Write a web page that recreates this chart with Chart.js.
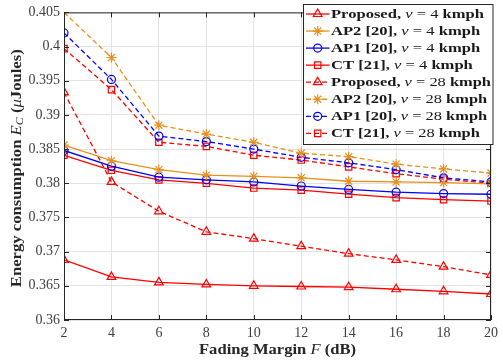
<!DOCTYPE html>
<html>
<head>
<meta charset="utf-8">
<script src="https://cdn.jsdelivr.net/npm/chart.js@4.4.1/dist/chart.umd.min.js"></script>
<style>
  html, body { margin: 0; padding: 0; background: #fff; }
  #wrap { width: 503px; height: 362px; }
</style>
</head>
<body>
<div id="wrap"><canvas id="c" width="503" height="362"></canvas></div>
<script>
// 数据 - 衰落余量 (dB)
const fadingMargin = [2, 4, 6, 8, 10, 12, 14, 16, 18, 20];

// v = 4 kmph
const proposed4 = [0.3688, 0.3663, 0.3655, 0.3652, 0.3650, 0.3649, 0.3648, 0.3645, 0.3642, 0.3638];
const ap2_4     = [0.3856, 0.3833, 0.3820, 0.3812, 0.3810, 0.3808, 0.3803, 0.3802, 0.3801, 0.3799];
const ap1_4     = [0.3848, 0.3825, 0.3809, 0.3805, 0.3802, 0.3796, 0.3791, 0.3787, 0.3785, 0.3784];
const ct4       = [0.3841, 0.3819, 0.3805, 0.3800, 0.3793, 0.3790, 0.3784, 0.3779, 0.3776, 0.3774];

// v = 28 kmph
const proposed28 = [0.3933, 0.3802, 0.3759, 0.3729, 0.3719, 0.3708, 0.3697, 0.3688, 0.3678, 0.3666];
const ap2_28     = [0.4050, 0.3984, 0.3885, 0.3872, 0.3860, 0.3844, 0.3839, 0.3828, 0.3821, 0.3815];
const ap1_28     = [0.4020, 0.3952, 0.3869, 0.3861, 0.3850, 0.3838, 0.3830, 0.3820, 0.3808, 0.3802];
const ct28       = [0.3997, 0.3937, 0.3860, 0.3854, 0.3841, 0.3834, 0.3824, 0.3814, 0.3806, 0.3800];

// 刻度
const xTicks = [2, 4, 6, 8, 10, 12, 14, 16, 18, 20];
const yTicks = [0.36, 0.365, 0.37, 0.375, 0.38, 0.385, 0.39, 0.395, 0.4, 0.405];

// 图例文字 (b = 粗体, i = 斜体, n = 正常)
const legendLabels = [
    [['b', 'Proposed, '], ['i', 'v'], ['n', ' = 4 '], ['b', 'kmph']],
    [['b', 'AP2 [20], '], ['i', 'v'], ['n', ' = 4 '], ['b', 'kmph']],
    [['b', 'AP1 [20], '], ['i', 'v'], ['n', ' = 4 '], ['b', 'kmph']],
    [['b', 'CT [21], '], ['i', 'v'], ['n', ' = 4 '], ['b', 'kmph']],
    [['b', 'Proposed, '], ['i', 'v'], ['n', ' = 28 '], ['b', 'kmph']],
    [['b', 'AP2 [20], '], ['i', 'v'], ['n', ' = 28 '], ['b', 'kmph']],
    [['b', 'AP1 [20], '], ['i', 'v'], ['n', ' = 28 '], ['b', 'kmph']],
    [['b', 'CT [21], '], ['i', 'v'], ['n', ' = 28 '], ['b', 'kmph']]
];

const RED = '#ff0000';
const BLUE = '#0000ff';
const ORANGE = '#e8901e';
const SERIF = '"Liberation Serif", "DejaVu Serif", serif';

function series(data, color, style, dashed, radius) {
    return {
        data: fadingMargin.map((x, i) => ({ x: x, y: data[i] })),
        borderColor: color,
        backgroundColor: 'rgba(0,0,0,0)',
        pointBorderColor: color,
        pointBackgroundColor: 'rgba(0,0,0,0)',
        pointStyle: style,
        pointRadius: radius,
        pointBorderWidth: 1.2,
        borderWidth: 1.3,
        borderDash: dashed ? [5, 3] : [],
        tension: 0,
        fill: false
    };
}

const datasets = [
    series(proposed4, RED, 'triangle', false, 5),
    series(ap2_4, ORANGE, 'star', false, 5),
    series(ap1_4, BLUE, 'circle', false, 4),
    series(ct4, RED, 'rect', false, 4.5),
    series(proposed28, RED, 'triangle', true, 5),
    series(ap2_28, ORANGE, 'star', true, 5),
    series(ap1_28, BLUE, 'circle', true, 4),
    series(ct28, RED, 'rect', true, 4.5)
];

function fontFor(kind, size) {
    if (kind === 'b') return 'bold ' + size + 'px ' + SERIF;
    if (kind === 'i') return 'italic ' + size + 'px ' + SERIF;
    if (kind === 'sub') return 'italic ' + Math.round(size * 0.7) + 'px ' + SERIF;
    return size + 'px ' + SERIF;
}

// 绘制混合字体文字
function richWidth(ctx, segs, size) {
    let w = 0;
    segs.forEach(s => { ctx.font = fontFor(s[0], size); w += ctx.measureText(s[1]).width; });
    return w;
}

function drawRich(ctx, segs, x, y, size, targetW) {
    const natural = richWidth(ctx, segs, size);
    const sx = targetW ? targetW / natural : 1;
    ctx.save();
    ctx.translate(x, y);
    ctx.scale(sx, 1);
    let cx = 0;
    segs.forEach(s => {
        ctx.font = fontFor(s[0], size);
        const dy = s[0] === 'sub' ? size * 0.25 : 0;
        ctx.fillText(s[1], cx, dy);
        cx += ctx.measureText(s[1]).width;
    });
    ctx.restore();
}

const matlabAxes = {
    id: 'matlabAxes',
    afterDatasetsDraw(chart) {
        const ctx = chart.ctx;
        const a = chart.chartArea;
        const xs = chart.scales.x, ys = chart.scales.y;
        ctx.save();
        ctx.strokeStyle = '#262626';
        ctx.lineWidth = 1;
        ctx.setLineDash([]);
        ctx.strokeRect(a.left + 0.5, a.top + 0.5, a.right - a.left - 1, a.bottom - a.top - 1);
        ctx.beginPath();
        xTicks.forEach(t => {
            const px = Math.round(xs.getPixelForValue(t)) + 0.5;
            ctx.moveTo(px, a.bottom); ctx.lineTo(px, a.bottom - 5);
            ctx.moveTo(px, a.top); ctx.lineTo(px, a.top + 5);
        });
        yTicks.forEach(t => {
            const py = Math.round(ys.getPixelForValue(t)) + 0.5;
            ctx.moveTo(a.left, py); ctx.lineTo(a.left + 5, py);
            ctx.moveTo(a.right, py); ctx.lineTo(a.right - 5, py);
        });
        ctx.stroke();
        ctx.restore();
    },
    afterDraw(chart) {
        const ctx = chart.ctx;
        const a = chart.chartArea;
        ctx.save();
        ctx.fillStyle = '#262626';
        ctx.textBaseline = 'middle';

        // 坐标轴标题
        const xTitle = [['b', 'Fading Margin '], ['i', 'F'], ['b', ' (dB)']];
        drawRich(ctx, xTitle, (a.left + a.right) / 2 - 78.5, 350, 14, 157);

        const yTitle = [['b', 'Energy consumption '], ['i', 'E'], ['sub', 'C'], ['b', ' ('], ['i', 'μ'], ['b', 'Joules)']];
        ctx.save();
        ctx.translate(17, (a.top + a.bottom) / 2 + 2);
        ctx.rotate(-Math.PI / 2);
        drawRich(ctx, yTitle, -119, 0, 14, 238);
        ctx.restore();

        // 图例
        const bx = 303.5, by = 4.5, bw = 189.5, bh = 140;
        ctx.fillStyle = '#ffffff';
        ctx.fillRect(bx, by, bw, bh);
        ctx.strokeStyle = '#262626';
        ctx.lineWidth = 1;
        ctx.strokeRect(bx, by, bw, bh);
        chart.data.datasets.forEach((ds, i) => {
            const ry = 14 + 17.05 * i;
            ctx.save();
            ctx.strokeStyle = ds.borderColor;
            ctx.lineWidth = ds.borderWidth;
            ctx.setLineDash(ds.borderDash);
            ctx.beginPath();
            ctx.moveTo(306, ry); ctx.lineTo(329.5, ry);
            ctx.stroke();
            ctx.setLineDash([]);
            ctx.lineWidth = ds.pointBorderWidth;
            ctx.fillStyle = 'rgba(0,0,0,0)';
            Chart.helpers.drawPoint(ctx, {
                pointStyle: ds.pointStyle, radius: ds.pointRadius, rotation: 0, borderWidth: ds.pointBorderWidth
            }, 317.7, ry);
            ctx.restore();
            ctx.fillStyle = '#1a1a1a';
            const tw = i < 4 ? 153 : 160;
            const segs = legendLabels[i];
            const scaleW = (i % 4 === 0) ? tw : tw * richWidth(ctx, segs, 13) / richWidth(ctx, legendLabels[i < 4 ? 0 : 4], 13);
            drawRich(ctx, segs, 331, ry + 0.5, 13, scaleW);
        });
        ctx.restore();
    }
};

new Chart(document.getElementById('c'), {
    type: 'line',
    data: { datasets: datasets },
    options: {
        responsive: false,
        animation: false,
        layout: { padding: { left: 0, right: 12, top: 12, bottom: 0 } },
        plugins: {
            legend: { display: false },
            tooltip: { enabled: false }
        },
        scales: {
            x: {
                type: 'linear',
                min: 2,
                max: 20,
                afterBuildTicks: s => { s.ticks = xTicks.map(v => ({ value: v })); },
                afterFit: s => { s.height = 42; },
                grid: { color: '#e3e3e3', drawTicks: false, lineWidth: 1 },
                border: { display: false },
                ticks: {
                    padding: 5,
                    color: '#404040',
                    font: { family: SERIF, size: 14 },
                    maxRotation: 0
                }
            },
            y: {
                type: 'linear',
                min: 0.36,
                max: 0.405,
                afterBuildTicks: s => { s.ticks = yTicks.map(v => ({ value: v })); },
                afterFit: s => { s.width = 64; },
                grid: { color: '#e3e3e3', drawTicks: false, lineWidth: 1 },
                border: { display: false },
                ticks: {
                    padding: 4,
                    color: '#404040',
                    font: { family: SERIF, size: 14 },
                    callback: v => String(+v.toFixed(3))
                }
            }
        }
    },
    plugins: [matlabAxes]
});
</script>
</body>
</html>
